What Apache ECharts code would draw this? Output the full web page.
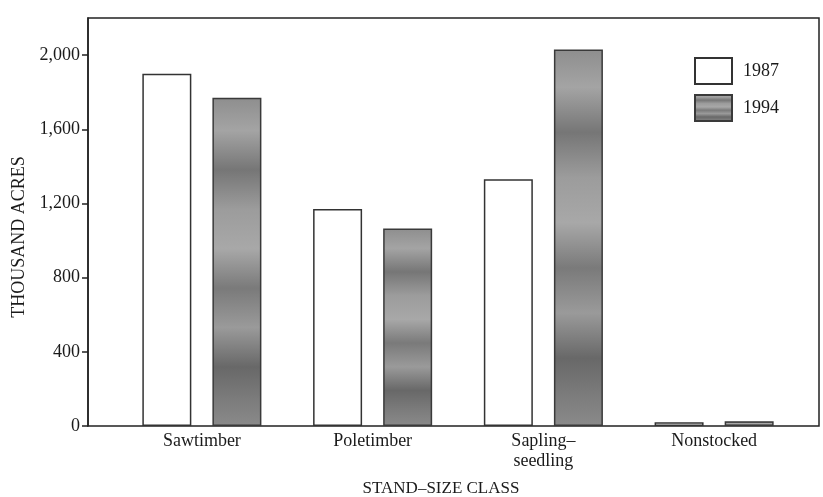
<!DOCTYPE html>
<html>
<head>
<meta charset="utf-8">
<script src="https://cdn.jsdelivr.net/npm/echarts@6/dist/echarts.min.js"></script>
<style>
html,body{margin:0;padding:0;background:#fff;}
#main{width:823px;height:497px;}
</style>
</head>
<body>
<div id="main"></div>
<script>
var categories = ['Sawtimber', 'Poletimber', 'Sapling–\nseedling', 'Nonstocked'];
var seriesNames = ['1987', '1994'];
var values1987 = [1900, 1170, 1330, 20];
var values1994 = [1770, 1065, 2030, 25];
var yTicks = [0, 400, 800, 1200, 1600, 2000];
var yAxisTitle = 'THOUSAND ACRES';
var xAxisTitle = 'STAND–SIZE CLASS';

var FONT = '"Liberation Serif", "Times New Roman", serif';
var chart = echarts.init(document.getElementById('main'), null, {renderer: 'canvas'});

var mottled = new echarts.graphic.LinearGradient(0, 0, 0, 1, [
  {offset: 0.00, color: '#8e8e8e'},
  {offset: 0.10, color: '#a4a4a4'},
  {offset: 0.22, color: '#767676'},
  {offset: 0.34, color: '#9c9c9c'},
  {offset: 0.46, color: '#a8a8a8'},
  {offset: 0.58, color: '#7a7a7a'},
  {offset: 0.70, color: '#9a9a9a'},
  {offset: 0.82, color: '#686868'},
  {offset: 0.92, color: '#7c7c7c'},
  {offset: 1.00, color: '#8a8a8a'}
]);

var option = {
  backgroundColor: '#fff',
  animation: false,
  grid: [
    {left: 88, right: 4, top: 18, bottom: 71, show: true, borderColor: '#222', borderWidth: 1.5, backgroundColor: 'transparent'},
    {left: 116.5, right: 23.5, top: 18, bottom: 71}
  ],
  xAxis: [
    {type: 'value', gridIndex: 0, show: false, min: 0, max: 1},
    {
      type: 'category', gridIndex: 1, data: categories,
      axisLine: {show: false}, axisTick: {show: false},
      axisLabel: {color: '#1a1a1a', fontFamily: FONT, fontSize: 18, lineHeight: 20, margin: 5}
    }
  ],
  yAxis: [
    {
      type: 'value', gridIndex: 0, min: 0, max: 2200, interval: 400,
      axisLine: {show: true, lineStyle: {color: '#222', width: 1.5}},
      axisTick: {show: true, length: 6, customValues: yTicks, lineStyle: {color: '#222', width: 1.5}},
      axisLabel: {
        customValues: yTicks, margin: 8, color: '#1a1a1a', fontFamily: FONT, fontSize: 18,
        formatter: function (v) { return v.toLocaleString('en-US'); }
      },
      splitLine: {show: false}
    },
    {type: 'value', gridIndex: 1, min: 0, max: 2200, show: false, splitLine: {show: false}}
  ],
  legend: {
    orient: 'vertical', left: 689, top: 52, itemWidth: 37, itemHeight: 26, itemGap: 9,
    icon: 'rect',
    data: seriesNames,
    textStyle: {color: '#1a1a1a', fontFamily: FONT, fontSize: 18, padding: [12, 0, 0, 6]}
  },
  series: [
    {
      name: seriesNames[0], type: 'bar', xAxisIndex: 1, yAxisIndex: 1,
      data: values1987, barWidth: 49, barGap: '43%',
      itemStyle: {color: '#ffffff', borderColor: '#333', borderWidth: 1.5}
    },
    {
      name: seriesNames[1], type: 'bar', xAxisIndex: 1, yAxisIndex: 1,
      data: values1994, barWidth: 49, barGap: '43%',
      itemStyle: {color: mottled, borderColor: '#3a3a3a', borderWidth: 1.5}
    }
  ],
  graphic: [
    {
      type: 'text', x: 19, y: 237, rotation: Math.PI / 2,
      style: {text: yAxisTitle, fill: '#1a1a1a', font: '18px ' + FONT, textAlign: 'center', textVerticalAlign: 'middle'}
    },
    {
      type: 'text', x: 441, y: 489,
      style: {text: xAxisTitle, fill: '#1a1a1a', font: '17px ' + FONT, textAlign: 'center', textVerticalAlign: 'middle'}
    }
  ]
};
chart.setOption(option);
</script>
</body>
</html>
